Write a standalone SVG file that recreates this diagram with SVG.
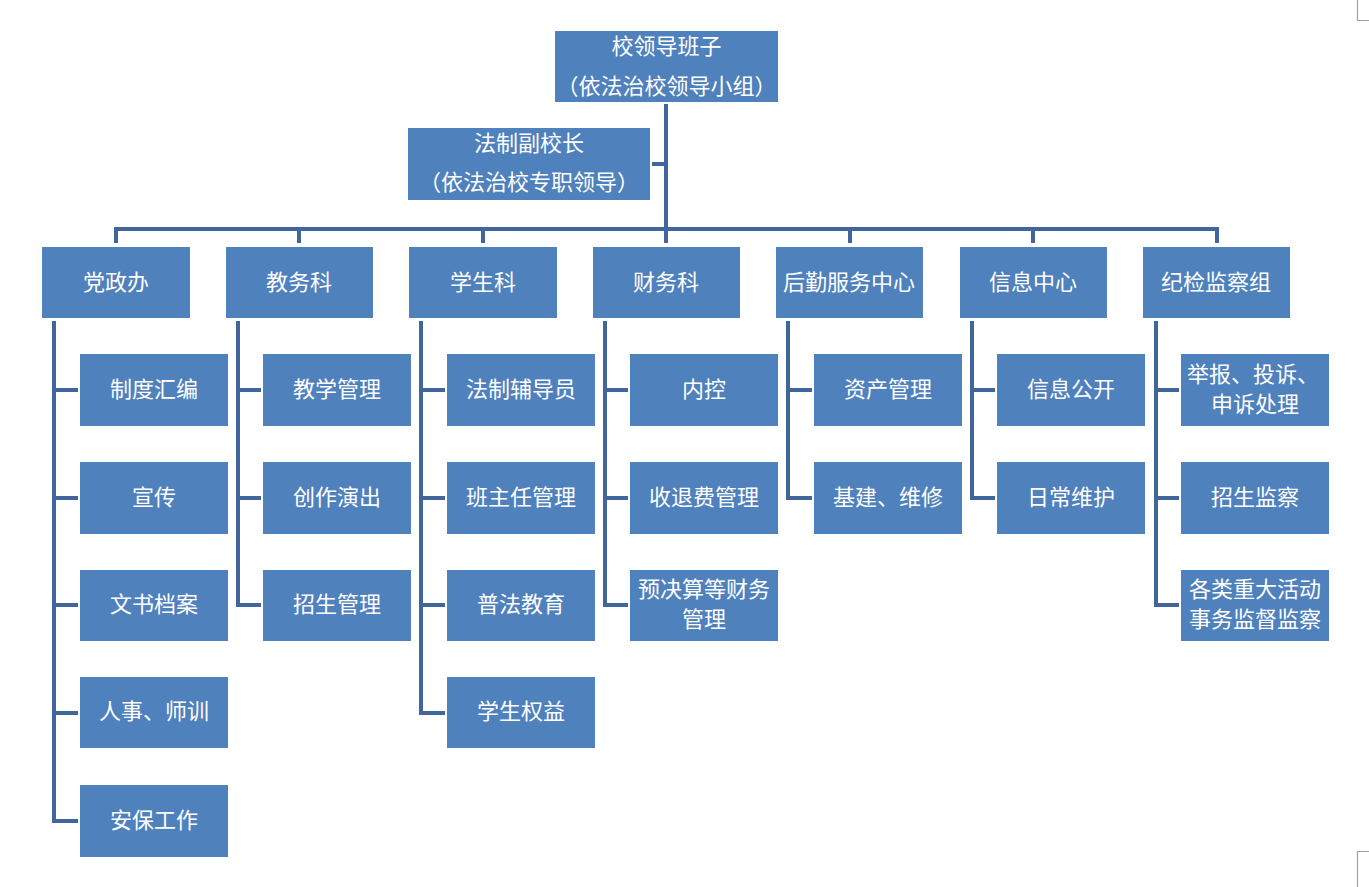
<svg xmlns="http://www.w3.org/2000/svg" width="1369" height="887" viewBox="0 0 1369 887">
<style>
.b{fill:#4F81BD}
.t{fill:#FFFFFF;font-family:"Noto Sans CJK SC","Noto Sans",sans-serif;font-size:22px;text-anchor:middle;dominant-baseline:central}
.c{fill:none;stroke:#41669B;stroke-width:4}
.m{fill:none;stroke:#A0A0A0;stroke-width:1.2}
</style>
<rect width="1369" height="887" fill="#FFFFFF"/>
<g class="m"><path d="M1357.5 0V20.5H1369"/><path d="M1369 851.5H1357.5V887"/></g>
<g id="connectors" class="c">
<path d="M666 104V243"/>
<path d="M652 164H666"/>
<path d="M116 243V229H1217V243"/>
<path d="M299 229V243M483 229V243M850 229V243M1033 229V243"/>
<path d="M54 321V821H78M54 390H78M54 498H78M54 605H78M54 713H78"/>
<path d="M238 321V605H261M238 390H261M238 498H261"/>
<path d="M421 321V713H445M421 390H445M421 498H445M421 605H445"/>
<path d="M605 321V605H628M605 390H628M605 498H628"/>
<path d="M788 321V498H812M788 390H812"/>
<path d="M972 321V498H995M972 390H995"/>
<path d="M1156 321V605H1179M1156 390H1179M1156 498H1179"/>
</g>
<g id="n-top"><rect class="b" x="555" y="31" width="223" height="71"/><text class="t" x="666.5" y="44">校领导班子</text><text class="t" x="666.5" y="84">（依法治校领导小组）</text></g>
<g id="n-deputy"><rect class="b" x="408" y="128" width="242" height="72"/><text class="t" x="529" y="141">法制副校长</text><text class="t" x="529" y="180">（依法治校专职领导）</text></g>
<g id="d1"><rect class="b" x="42" y="247" width="148" height="71"/><text class="t" x="116" y="280">党政办</text></g>
<g id="d2"><rect class="b" x="226" y="247" width="147" height="71"/><text class="t" x="299" y="280">教务科</text></g>
<g id="d3"><rect class="b" x="409" y="247" width="148" height="71"/><text class="t" x="483" y="280">学生科</text></g>
<g id="d4"><rect class="b" x="593" y="247" width="147" height="71"/><text class="t" x="666" y="280">财务科</text></g>
<g id="d5"><rect class="b" x="776" y="247" width="147" height="71"/><text class="t" x="849" y="280">后勤服务中心</text></g>
<g id="d6"><rect class="b" x="960" y="247" width="147" height="71"/><text class="t" x="1033" y="280">信息中心</text></g>
<g id="d7"><rect class="b" x="1143" y="247" width="147" height="71"/><text class="t" x="1216" y="280">纪检监察组</text></g>
<g id="c1a"><rect class="b" x="80" y="354" width="148" height="72"/><text class="t" x="154" y="387">制度汇编</text></g>
<g id="c1b"><rect class="b" x="80" y="462" width="148" height="72"/><text class="t" x="154" y="495">宣传</text></g>
<g id="c1c"><rect class="b" x="80" y="570" width="148" height="71"/><text class="t" x="154" y="602">文书档案</text></g>
<g id="c1d"><rect class="b" x="80" y="677" width="148" height="71"/><text class="t" x="154" y="709">人事、师训</text></g>
<g id="c1e"><rect class="b" x="80" y="785" width="148" height="72"/><text class="t" x="154" y="818">安保工作</text></g>
<g id="c2a"><rect class="b" x="263" y="354" width="148" height="72"/><text class="t" x="337" y="387">教学管理</text></g>
<g id="c2b"><rect class="b" x="263" y="462" width="148" height="72"/><text class="t" x="337" y="495">创作演出</text></g>
<g id="c2c"><rect class="b" x="263" y="570" width="148" height="71"/><text class="t" x="337" y="602">招生管理</text></g>
<g id="c3a"><rect class="b" x="447" y="354" width="148" height="72"/><text class="t" x="521" y="387">法制辅导员</text></g>
<g id="c3b"><rect class="b" x="447" y="462" width="148" height="72"/><text class="t" x="521" y="495">班主任管理</text></g>
<g id="c3c"><rect class="b" x="447" y="570" width="148" height="71"/><text class="t" x="521" y="602">普法教育</text></g>
<g id="c3d"><rect class="b" x="447" y="677" width="148" height="71"/><text class="t" x="521" y="709">学生权益</text></g>
<g id="c4a"><rect class="b" x="630" y="354" width="148" height="72"/><text class="t" x="704" y="387">内控</text></g>
<g id="c4b"><rect class="b" x="630" y="462" width="148" height="72"/><text class="t" x="704" y="495">收退费管理</text></g>
<g id="c4c"><rect class="b" x="630" y="570" width="148" height="71"/><text class="t" x="704" y="587">预决算等财务</text><text class="t" x="704" y="617">管理</text></g>
<g id="c5a"><rect class="b" x="814" y="354" width="148" height="72"/><text class="t" x="888" y="387">资产管理</text></g>
<g id="c5b"><rect class="b" x="814" y="462" width="148" height="72"/><text class="t" x="888" y="495">基建、维修</text></g>
<g id="c6a"><rect class="b" x="997" y="354" width="148" height="72"/><text class="t" x="1071" y="387">信息公开</text></g>
<g id="c6b"><rect class="b" x="997" y="462" width="148" height="72"/><text class="t" x="1071" y="495">日常维护</text></g>
<g id="c7a"><rect class="b" x="1181" y="354" width="148" height="72"/><text class="t" x="1253" y="372">举报、投诉、</text><text class="t" x="1255" y="402">申诉处理</text></g>
<g id="c7b"><rect class="b" x="1181" y="462" width="148" height="72"/><text class="t" x="1255" y="495">招生监察</text></g>
<g id="c7c"><rect class="b" x="1181" y="570" width="148" height="71"/><text class="t" x="1255" y="587">各类重大活动</text><text class="t" x="1255" y="617">事务监督监察</text></g>
</svg>
